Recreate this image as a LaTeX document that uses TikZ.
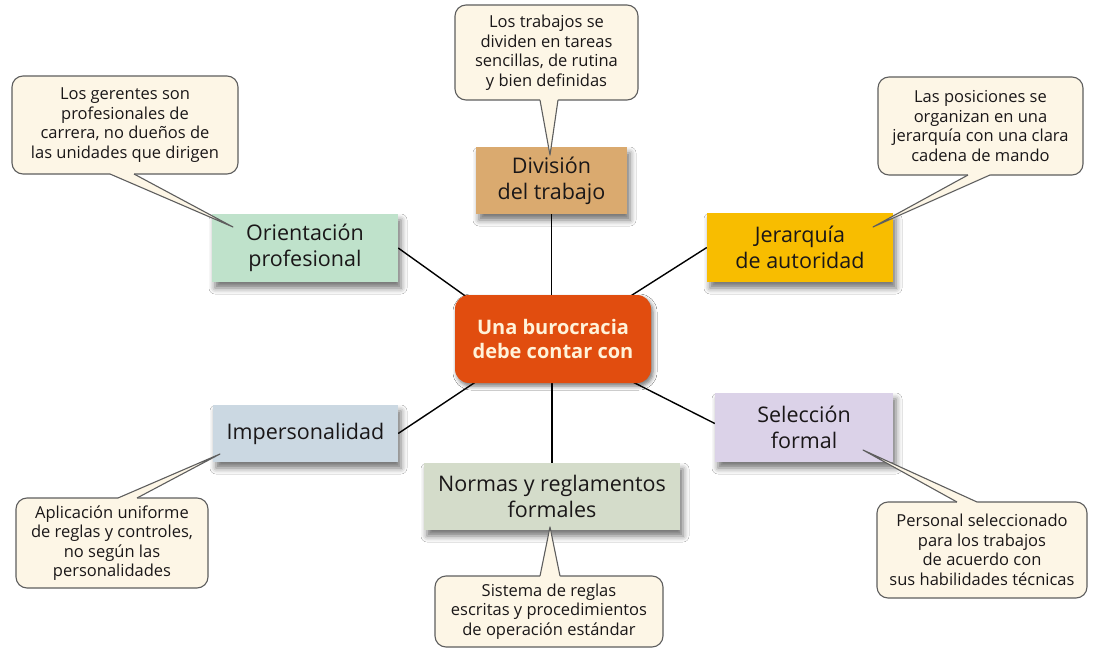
\documentclass[tikz,border=0pt]{standalone}
\usepackage{fontspec}
\setmainfont{Open Sans}
\usetikzlibrary{shadows.blur,backgrounds,calc}
\definecolor{cream}{HTML}{FDF6E6}
\definecolor{bord}{HTML}{5E5E5E}
\definecolor{txt}{HTML}{1A1718}
\definecolor{cdiv}{HTML}{DAAA6F}
\definecolor{cori}{HTML}{BFE2CB}
\definecolor{cjer}{HTML}{F8BD00}
\definecolor{cctr}{HTML}{E14D0F}
\definecolor{cimp}{HTML}{CBD8E2}
\definecolor{csel}{HTML}{DBD2E8}
\definecolor{cnor}{HTML}{D4DCCA}
\definecolor{ctrtxt}{HTML}{FFF2D9}
\begin{document}
\begin{tikzpicture}[x=1pt,y=-1pt,
 box/.style={rectangle, inner sep=0pt, align=center, text=txt,
   font=\fontsize{21.5}{26}\selectfont,
   blur shadow={shadow xshift=3pt, shadow yshift=-6pt, shadow blur radius=6pt, shadow opacity=55}},
 note/.style={rectangle, rounded corners=11pt, draw=bord, line width=1.1pt, fill=cream,
   inner sep=0pt, align=center, text=txt, font=\fontsize{16.5}{19.5}\selectfont},
 tailfill/.style={fill=cream, draw=none},
 tailline/.style={draw=bord, line width=1.1pt, line join=round},
 link/.style={draw=black, line width=1.4pt}]
\useasboundingbox (0,0) rectangle (1096,661);

% main boxes
\node[box, fill=cdiv, minimum width=151pt, minimum height=67pt] (div) at (551.5,180.5) {División\\del trabajo};
\node[box, fill=cori, minimum width=186pt, minimum height=68pt] (ori) at (305,248) {Orientación\\profesional};
\node[box, fill=cjer, minimum width=186pt, minimum height=69pt] (jer) at (800,247.5) {Jerarquía\\de autoridad};
\node[box, fill=cimp, minimum width=185pt, minimum height=57pt] (imp) at (305.5,433.5) {Impersonalidad};
\node[box, fill=csel, minimum width=178pt, minimum height=69pt] (sel) at (804,427.5) {Selección\\formal};
\node[box, fill=cnor, minimum width=256pt, minimum height=67pt] (nor) at (552,496.5) {Normas y reglamentos\\formales};
\node[box, fill=cctr, rounded corners=14pt, minimum width=196pt, minimum height=88pt,
  text=ctrtxt, font=\fontsize{20}{24}\selectfont\bfseries,
  blur shadow={shadow xshift=2pt, shadow yshift=-3pt, shadow blur radius=4pt, shadow opacity=30}]
  (ctr) at (553,339) {Una burocracia\\debe contar con};

% connectors
\begin{scope}[on background layer]
\fill[white] (0,0) rectangle (1096,661);
\draw[link] (div.south) -- (div.south |- ctr.north);
\draw[link] (ctr.south -| nor.north) -- (nor.north);
\draw[link] (ori.east) -- ($(ctr.north west)+(20,8)$);
\draw[link] (jer.west) -- ($(ctr.north east)+(-25,4)$);
\draw[link] (imp.east) -- ($(ctr.south west)+(25,-4)$);
\draw[link] ($(sel.west)+(0,-4)$) -- ($(ctr.south east)+(-20,-2)$);
\end{scope}

% callouts
\node[note, minimum width=183pt, minimum height=95pt] (n1) at (546.5,52.5) {Los trabajos se\\dividen en tareas\\sencillas, de rutina\\y bien definidas};
\node[note, minimum width=226pt, minimum height=98pt] (n2) at (125,125) {Los gerentes son\\profesionales de\\carrera, no dueños de\\las unidades que dirigen};
\node[note, minimum width=205pt, minimum height=98pt] (n3) at (980.5,126) {Las posiciones se\\organizan en una\\jerarquía con una clara\\cadena de mando};
\node[note, minimum width=192pt, minimum height=90pt] (n4) at (112,543) {Aplicación uniforme\\de reglas y controles,\\no según las\\personalidades};
\node[note, minimum width=210pt, minimum height=96pt] (n5) at (982,550) {Personal seleccionado\\para los trabajos\\de acuerdo con\\sus habilidades técnicas};
\node[note, minimum width=228pt, minimum height=71pt] (n6) at (549,611.5) {Sistema de reglas\\escritas y procedimientos\\de operación estándar};

% tails
\coordinate (t1) at (550,155);
\fill[tailfill] (540,97) -- (540,100) -- (t1) -- (558,100) -- (558,97) -- cycle;
\draw[tailline] (540,100) -- (t1) -- (558,100);

\coordinate (t2) at (233,227);
\fill[tailfill] (110,171) -- (110,174) -- (t2) -- (134,174) -- (134,171) -- cycle;
\draw[tailline] (110,174) -- (t2) -- (134,174);

\coordinate (t3) at (873,227);
\fill[tailfill] (968,172) -- (968,175) -- (t3) -- (990,175) -- (990,172) -- cycle;
\draw[tailline] (968,175) -- (t3) -- (990,175);

\coordinate (t4) at (220,454);
\fill[tailfill] (118,501) -- (118,498) -- (t4) -- (137,498) -- (137,501) -- cycle;
\draw[tailline] (118,498) -- (t4) -- (137,498);

\coordinate (t5) at (863,450);
\fill[tailfill] (957,505) -- (957,502) -- (t5) -- (977,502) -- (977,505) -- cycle;
\draw[tailline] (957,502) -- (t5) -- (977,502);

\coordinate (t6) at (550,527);
\fill[tailfill] (540,579) -- (540,576) -- (t6) -- (560,576) -- (560,579) -- cycle;
\draw[tailline] (540,576) -- (t6) -- (560,576);
\end{tikzpicture}
\end{document}
